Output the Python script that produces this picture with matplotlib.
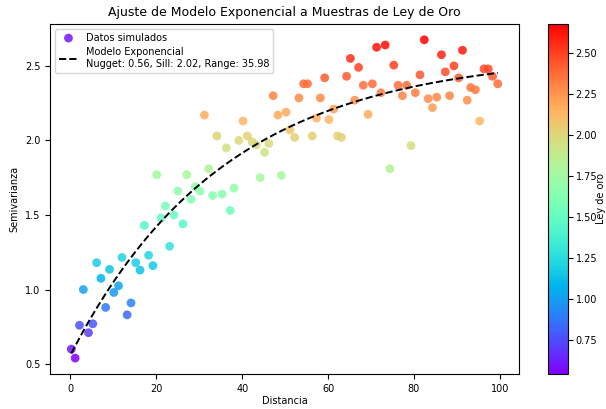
import numpy as np
import matplotlib
matplotlib.use("Agg")
import matplotlib.pyplot as plt

distancia = [0.2, 1.1, 2.1, 3.0, 4.2, 5.2, 6.1, 7.1, 8.2, 9.1,
             10.1, 11.2, 12.0, 13.2, 14.1, 15.2, 16.2, 17.2, 18.2, 19.2,
             20.1, 21.1, 22.1, 23.1, 24.1, 25.0, 26.2, 27.1, 28.1, 29.1,
             30.2, 31.2, 32.2, 33.1, 34.1, 35.3, 36.3, 37.2, 38.1, 39.2,
             40.2, 41.2, 42.3, 43.3, 44.2, 45.2, 46.2, 47.2, 48.3, 49.1,
             50.2, 51.1, 52.2, 53.2, 54.3, 55.2, 56.3, 57.3, 58.2, 59.2,
             60.2, 61.3, 62.2, 63.1, 64.3, 65.2, 66.2, 67.1, 68.2, 69.3,
             70.3, 71.3, 72.3, 73.3, 74.4, 75.3, 76.3, 77.3, 78.3, 79.3,
             80.3, 81.4, 82.4, 83.3, 84.3, 85.3, 86.4, 87.3, 88.3, 89.3,
             90.4, 91.3, 92.4, 93.2, 94.3, 95.3, 96.3, 97.3, 98.3, 99.5]

semivarianza = [0.60, 0.54, 0.76, 1.00, 0.71, 0.77, 1.18, 1.075, 0.88, 1.135,
                0.98, 1.025, 1.215, 0.83, 0.91, 1.18, 1.13, 1.43, 1.23, 1.16,
                1.77, 1.48, 1.56, 1.29, 1.50, 1.66, 1.44, 1.77, 1.605, 1.69,
                1.66, 2.17, 1.81, 1.63, 2.03, 1.64, 1.95, 1.53, 1.68, 2.00,
                2.13, 2.03, 1.99, 1.97, 1.75, 1.92, 1.98, 2.30, 2.17, 1.765,
                2.19, 2.07, 2.02, 2.285, 2.38, 2.38, 2.03, 2.15, 2.285, 2.42,
                2.14, 2.21, 2.03, 2.02, 2.43, 2.55, 2.27, 2.49, 2.37, 2.175,
                2.38, 2.625, 2.32, 2.64, 1.81, 2.505, 2.37, 2.30, 2.37, 1.965,
                2.32, 2.44, 2.675, 2.28, 2.22, 2.29, 2.575, 2.46, 2.30, 2.50,
                2.42, 2.605, 2.27, 2.355, 2.34, 2.13, 2.48, 2.48, 2.43, 2.38]

nugget = 0.56
sill = 2.02
rango = 35.98

x = np.array(distancia)
y = np.array(semivarianza)

fig = plt.figure(figsize=(6.06, 4.09), dpi=100)
ax = fig.add_axes([0.0825, 0.0856, 0.774, 0.856])
cax = fig.add_axes([0.904, 0.0856, 0.033, 0.856])

sc = ax.scatter(x, y, c=y, cmap="rainbow", s=40, alpha=0.85,
                edgecolors="none", label="Datos simulados")
h = np.linspace(x.min(), x.max(), 200)
modelo = nugget + sill * (1 - np.exp(-h / rango))
ax.plot(h, modelo, "k--", lw=1.4,
        label=f"Modelo Exponencial\nNugget: {nugget:.2f}, Sill: {sill:.2f}, Range: {rango:.2f}")

ax.set_title("Ajuste de Modelo Exponencial a Muestras de Ley de Oro", fontsize=9)
ax.set_xlabel("Distancia", fontsize=7, labelpad=2)
ax.set_ylabel("Semivarianza", fontsize=7)
ax.tick_params(labelsize=7)
ax.set_yticks([0.5, 1.0, 1.5, 2.0, 2.5])
ax.set_xticks([0, 20, 40, 60, 80, 100])
ax.legend(loc="upper left", fontsize=7)

cb = fig.colorbar(sc, cax=cax)
cb.ax.tick_params(labelsize=7, pad=2)
cb.set_label("Ley de oro", fontsize=7, labelpad=-1)
cb.solids.set_alpha(1)

fig.savefig("out.png", dpi=100)
